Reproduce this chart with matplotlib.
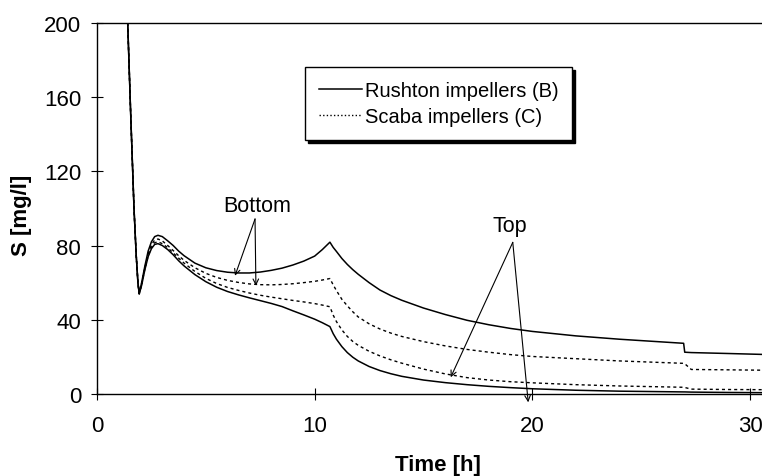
import numpy as np
import matplotlib
matplotlib.use('Agg')
import matplotlib.pyplot as plt
from matplotlib.lines import Line2D

plt.rcParams['font.family'] = ['Liberation Sans', 'DejaVu Sans']

# data
time_h = [1.41, 1.55, 1.70, 1.80, 1.88, 1.94, 2.05, 2.2, 2.35, 2.5, 2.65, 2.8,
          3.0, 3.25, 3.5, 3.75, 4.0, 4.5, 5.0, 5.5, 6.0, 6.5, 7.0, 7.5, 8.0,
          8.5, 9.0, 9.5, 10.0, 10.35, 10.7, 10.85, 11.0, 11.25, 11.5, 11.75,
          12.0, 12.5, 13.0, 13.5, 14.0, 15.0, 16.0, 17.0, 18.0, 19.0, 20.0,
          22.0, 24.0, 26.95, 27.0, 27.3, 29.0, 30.6]

rushton_bottom = [200, 150, 100, 75, 60, 54, 60, 69, 77, 82, 84.8, 85.5,
                  84.8, 82.5, 80, 77, 74.5, 70.5, 68, 66.5, 65.6, 65.2, 65.2, 65.7, 66.6,
                  67.8, 69.5, 71.6, 74.3, 77.8, 81.8, 79, 76.8, 73, 69.8, 67,
                  64.5, 60, 56, 53, 50.5, 46.3, 42.8, 39.7, 37.3, 35.3, 33.7,
                  31.3, 29.5, 27.3, 22.5, 22.3, 21.8, 21.3]
scaba_bottom = [200, 150, 100, 75, 60, 54, 59.5, 68, 75.5, 80.3, 83, 83.5,
                82.5, 80, 77.3, 74.5, 72, 68, 65, 62.8, 61.2, 60.1, 59.3, 58.9, 58.8,
                59, 59.4, 60, 60.7, 61.4, 62.2, 58.8, 55.7, 51, 47.5, 44.3,
                41.5, 37.8, 35, 32.8, 31, 28.2, 25.9, 24, 22.5, 21.2, 20.2,
                19, 17.8, 16.5, 16.3, 13.2, 13, 12.8]
scaba_top = [200, 150, 100, 75, 60, 54, 59, 67.5, 74.5, 79, 81.5, 82,
             81, 78.8, 76, 73.2, 70.5, 66, 62.3, 59.5, 57.4, 55.8, 54.4, 53.2, 52.2,
             51.3, 50.4, 49.6, 48.7, 47.9, 47, 42.5, 39, 34.5, 31, 28.3,
             26.2, 23, 20.5, 18.4, 16.6, 13.4, 10.8, 8.8, 7.5, 6.6, 6,
             5, 4.3, 3.6, 3.5, 2.6, 2.4, 2.3]
rushton_top = [200, 150, 100, 75, 60, 54, 58.5, 67, 74, 78.3, 80.6, 81,
               80, 77.8, 75, 71.8, 69, 64.3, 60.5, 57.5, 55.2, 53.4, 51.8, 50.3, 48.8,
               47.1, 44.8, 42.6, 40.3, 38.4, 36.3, 32.5, 29.5, 25.5, 22.3, 19.8,
               17.8, 14.8, 12.6, 10.9, 9.5, 7.5, 6.1, 5, 4.1, 3.4, 2.8,
               2, 1.5, 1.1, 1.1, 1.0, 0.8, 0.7]

x_ticks = [0, 10, 20, 30]
y_ticks = [0, 40, 80, 120, 160, 200]

fig = plt.figure(figsize=(7.62, 4.77), dpi=100)
ax = fig.add_axes([0.1273, 0.172, 0.8727, 0.778])

ax.plot(time_h, rushton_bottom, color='black', lw=1.1)
ax.plot(time_h, rushton_top, color='black', lw=1.1)
ax.plot(time_h, scaba_bottom, color='black', lw=1.0, ls=(0, (2.2, 2.2)))
ax.plot(time_h, scaba_top, color='black', lw=1.0, ls=(0, (2.2, 2.2)))

ax.set_xlim(0, 30.55)
ax.set_ylim(0, 200)
ax.set_xticks(x_ticks)
ax.set_yticks(y_ticks)
ax.tick_params(direction='inout', length=9, width=0.8, labelsize=16)
ax.tick_params(axis='y', pad=7)
ax.tick_params(axis='x', pad=11)
ax.spines['right'].set_visible(False)
for s in ['left', 'bottom', 'top']:
    ax.spines[s].set_linewidth(1.0)

ax.set_xlabel('Time [h]', fontsize=16, fontweight='bold')
ax.set_ylabel('S [mg/l]', fontsize=16, fontweight='bold')
ax.xaxis.set_label_coords(0.512, -0.163)
ax.yaxis.set_label_coords(-0.097, 0.485)

# arrows
arrow = dict(arrowstyle='->', lw=0.8, color='black', shrinkA=0, shrinkB=0)
ax.text(7.35, 101.8, 'Bottom', fontsize=15.5, ha='center', va='center')
ax.annotate('', xy=(6.34, 63.7), xytext=(7.26, 94.3), arrowprops=arrow)
ax.annotate('', xy=(7.30, 58.3), xytext=(7.26, 94.3), arrowprops=arrow)
ax.text(18.97, 91, 'Top', fontsize=15.5, ha='center', va='center')
ax.annotate('', xy=(16.25, 9.0), xytext=(19.1, 81.7), arrowprops=arrow)
ax.annotate('', xy=(19.81, -4.5), xytext=(19.1, 81.7), arrowprops=arrow,
            annotation_clip=False)

handles = [Line2D([], [], color='black', lw=1.1),
           Line2D([], [], color='black', lw=1.0, ls=(0, (1, 1.6)))]
leg = ax.legend(handles, ['Rushton impellers (B)', 'Scaba impellers (C)'],
                loc='upper left', bbox_to_anchor=(0.313, 0.881), borderaxespad=0,
                fontsize=14.5, frameon=True, fancybox=False, handlelength=2.1,
                handletextpad=0.15, borderpad=0.7, labelspacing=0.35,
                shadow={'color': 'black', 'alpha': 1})
leg.get_frame().set_edgecolor('black')
leg.get_frame().set_linewidth(1.0)
leg.get_frame().set_alpha(1)

fig.savefig('out.png', dpi=100)
